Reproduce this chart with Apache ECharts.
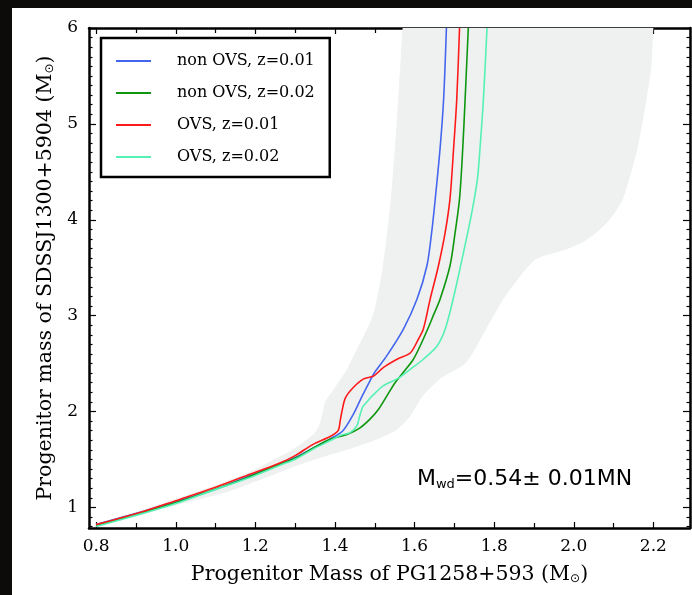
<!DOCTYPE html>
<html><head><meta charset="utf-8">
<script src="https://cdn.jsdelivr.net/npm/echarts@6/dist/echarts.min.js"></script>
<style>
html,body{margin:0;padding:0;background:#0d0b09;width:692px;height:595px;overflow:hidden}
#panel{position:absolute;left:12px;top:8px;width:680px;height:587px;background:#fff}
#chart{position:absolute;left:0;top:0;width:692px;height:595px}
</style></head><body>
<div id="panel"></div><div id="chart"></div>
<script>
// ---- data ----
const seriesNames = ['non OVS, z=0.01', 'non OVS, z=0.02', 'OVS, z=0.01', 'OVS, z=0.02'];
const seriesColors = ['#4466ee', '#0f960f', '#ff1a1a', '#55f0b4'];

const blueX = [0.80,0.92,1.00,1.10,1.18,1.26,1.30,1.35,1.39,1.42,1.446,1.467,1.488,1.50,1.53,1.572,1.606,1.631,1.643,1.652,1.664,1.673,1.68];
const blueY = [0.82,0.96,1.06,1.19,1.32,1.45,1.52,1.63,1.72,1.80,1.97,2.15,2.32,2.41,2.58,2.86,3.17,3.52,3.87,4.22,4.74,5.26,6.0];

const greenX = [0.80,0.92,1.00,1.095,1.179,1.262,1.304,1.346,1.388,1.43,1.463,1.488,1.509,1.53,1.551,1.572,1.597,1.618,1.633,1.648,1.664,1.689,1.702,1.713,1.721,1.727,1.735];
const greenY = [0.81,0.95,1.05,1.185,1.31,1.45,1.52,1.62,1.71,1.76,1.83,1.92,2.02,2.16,2.30,2.41,2.545,2.72,2.86,3.01,3.17,3.52,3.87,4.22,4.74,5.26,6.0];

const redX = [0.80,0.92,1.00,1.10,1.18,1.26,1.30,1.346,1.388,1.408,1.413,1.417,1.426,1.446,1.472,1.497,1.522,1.556,1.589,1.609,1.622,1.639,1.66,1.677,1.689,1.698,1.706,1.713];
const redY = [0.82,0.96,1.07,1.21,1.335,1.46,1.54,1.66,1.74,1.80,1.90,1.99,2.14,2.25,2.34,2.37,2.46,2.545,2.61,2.75,2.86,3.17,3.52,3.87,4.22,4.74,5.26,6.0];

const cyanX = [0.80,0.92,1.00,1.095,1.179,1.262,1.304,1.346,1.39,1.413,1.438,1.455,1.462,1.470,1.48,1.493,1.522,1.556,1.589,1.622,1.656,1.677,1.699,1.723,1.744,1.758,1.765,1.773,1.782];
const cyanY = [0.80,0.94,1.04,1.18,1.30,1.44,1.51,1.61,1.70,1.75,1.78,1.85,1.95,2.05,2.10,2.16,2.27,2.34,2.44,2.545,2.68,2.86,3.21,3.66,4.08,4.43,4.78,5.26,6.0];

// shaded uncertainty band outline (upper-left edge upward, then right edge downward)
const bandX = [0.80,0.92,1.00,1.10,1.18,1.262,1.30,1.345,1.36,1.37,1.375,1.40,1.43,1.455,1.481,1.50,1.52,1.54,1.555,1.57,1.575,
               2.205,2.20,2.195,2.183,2.16,2.124,2.09,2.058,2.02,1.98,1.905,1.865,1.823,1.78,1.73,1.664,1.62,1.589,1.556,1.50,1.43,1.35,1.30,1.22,1.137,1.00,0.90,0.80];
const bandY = [0.83,0.98,1.09,1.23,1.36,1.53,1.62,1.76,1.85,2.00,2.10,2.25,2.44,2.65,2.86,3.07,3.50,4.20,5.00,6.00,6.30,
               6.30,6.00,5.60,5.26,4.74,4.22,4.00,3.87,3.76,3.69,3.59,3.41,3.17,2.86,2.51,2.34,2.16,1.95,1.81,1.70,1.60,1.50,1.43,1.30,1.17,1.02,0.91,0.80];

const xTicks = [0.8,1.0,1.2,1.4,1.6,1.8,2.0,2.2];
const yTicks = [1,2,3,4,5,6];
const xMinorTicks = [0.9,1.1,1.3,1.5,1.7,1.9,2.1];
const yMinorTicks = [];
for (let k = 8; k <= 60; k++) { if (k % 10 !== 0) yMinorTicks.push(k / 10); }

const xTitle = 'Progenitor Mass of PG1258+593 (M{s|⊙})';
const yTitle = 'Progenitor mass of SDSSJ1300+5904 (M{s|⊙})';

// ---- chart ----
const X_MIN = 0.782, X_MAX = 2.292, Y_MIN = 0.785, Y_MAX = 6.0;
const serif = 'DejaVu Serif';
const chart = echarts.init(document.getElementById('chart'), null, {renderer: 'canvas'});

function xAx(pos, ticks, len, showLine, labels) {
  return {
    type: 'value', position: pos, min: X_MIN, max: X_MAX,
    axisLine: {show: showLine, onZero: false, lineStyle: {color: '#000', width: 2.5}},
    axisTick: {show: true, inside: true, length: len, customValues: ticks, lineStyle: {color: '#000', width: 1.2}},
    axisLabel: labels ? {show: true, customValues: xTicks, formatter: v => v.toFixed(1), margin: 10,
      color: '#000', fontFamily: serif, fontSize: 17} : {show: false},
    splitLine: {show: false}
  };
}
function yAx(pos, ticks, len, showLine, labels) {
  return {
    type: 'value', position: pos, min: Y_MIN, max: Y_MAX,
    axisLine: {show: showLine, onZero: false, lineStyle: {color: '#000', width: 2.5}},
    axisTick: {show: true, inside: true, length: len, customValues: ticks, lineStyle: {color: '#000', width: 1.2}},
    axisLabel: labels ? {show: true, customValues: yTicks, formatter: v => String(Math.round(v)), margin: 11,
      color: '#000', fontFamily: serif, fontSize: 17} : {show: false},
    splitLine: {show: false}
  };
}

const nameStyle = {color: '#000', fontFamily: serif, fontSize: 20.5,
  rich: {s: {fontFamily: 'DejaVu Sans', fontSize: 12, verticalAlign: 'bottom', color: '#000'}}};
const xMain = xAx('bottom', xTicks, 6, true, true);
xMain.name = xTitle; xMain.nameLocation = 'middle'; xMain.nameGap = 36;
xMain.nameTextStyle = nameStyle;
const yMain = yAx('left', yTicks, 7, true, true);
yMain.name = yTitle; yMain.nameLocation = 'middle'; yMain.nameGap = 33;
yMain.nameTextStyle = nameStyle;

const lineSeries = [
  [blueX, blueY, 0], [greenX, greenY, 1], [redX, redY, 2], [cyanX, cyanY, 3]
].map(([xs, ys, i]) => ({
  type: 'line', name: seriesNames[i], xAxisIndex: 0, yAxisIndex: 0,
  data: xs.map((x, j) => [x, ys[j]]),
  symbol: 'none', showSymbol: false, smooth: 0.3, z: 3 + i,
  lineStyle: {color: seriesColors[i], width: 1.6},
  itemStyle: {color: seriesColors[i]}
}));

chart.setOption({
  animation: false,
  backgroundColor: 'transparent',
  grid: {left: 89, right: 2, top: 28, bottom: 67, containLabel: false},
  xAxis: [xMain, xAx('top', xTicks, 6, true, false), xAx('bottom', xMinorTicks, 5, false, false), xAx('top', xMinorTicks, 5, false, false)],
  yAxis: [yMain, yAx('right', yTicks, 7, true, false), yAx('left', yMinorTicks, 3.5, false, false), yAx('right', yMinorTicks, 3.5, false, false)],
  legend: {
    data: seriesNames, orient: 'vertical', left: 101, top: 38,
    padding: [15, 15, 12, 15], itemGap: 16, itemWidth: 35, itemHeight: 2, icon: 'rect',
    borderColor: '#000', borderWidth: 2.5, borderRadius: 0, backgroundColor: '#fff',
    textStyle: {color: '#000', fontFamily: serif, fontSize: 16, padding: [0, 0, 0, 21]}
  },
  graphic: [{
    type: 'text', left: 417, top: 468, z: 10,
    style: {
      text: '{a|M}{b|wd}{a|=0.54± 0.01MN}',
      rich: {
        a: {fontFamily: 'DejaVu Sans', fontSize: 22, lineHeight: 24, fill: '#000'},
        b: {fontFamily: 'DejaVu Sans', fontSize: 13, lineHeight: 13, verticalAlign: 'bottom', fill: '#000'}
      }
    }
  }],
  series: [{
    type: 'custom', name: 'band', silent: true, z: 1, clip: true,
    xAxisIndex: 0, yAxisIndex: 0,
    data: [[1.5, 3]],
    renderItem: function (params, api) {
      const pts = bandX.map((x, i) => api.coord([x, bandY[i]]));
      return {type: 'polygon', shape: {points: pts, smooth: 0.2}, style: {fill: '#eef1f0'}};
    }
  }].concat(lineSeries)
});
</script>
</body></html>
